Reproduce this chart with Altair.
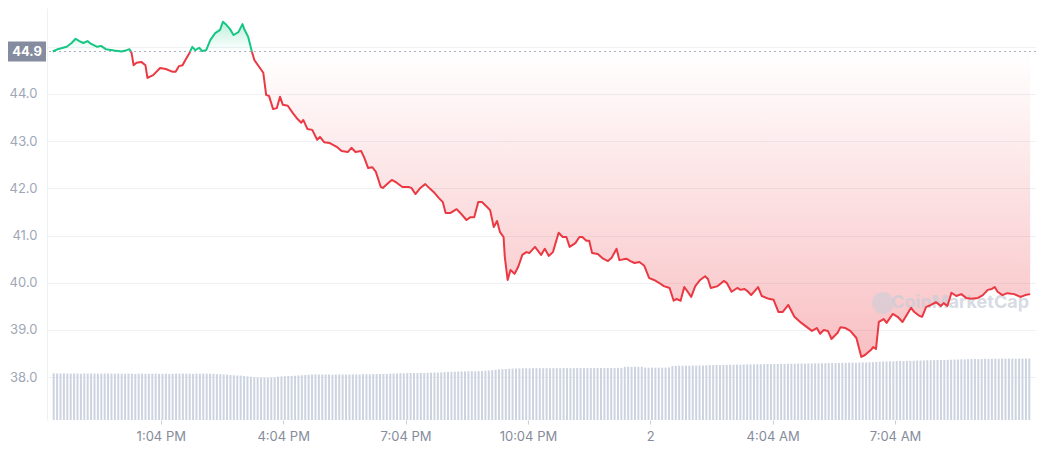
import altair as alt
import pandas as pd

BASE = 44.9
BASE_LABEL = "44.9"

TIMES = [10.42, 10.54, 10.76, 10.88, 10.98, 11.07, 11.17, 11.27, 11.36, 11.51, 11.60, 11.72,
         11.92, 12.11, 12.23, 12.30, 12.35, 12.40, 12.47, 12.59, 12.69, 12.74, 12.88, 13.05,
         13.19, 13.36, 13.43, 13.51, 13.60, 13.67, 13.77, 13.84, 13.91, 14.01, 14.08, 14.18,
         14.28, 14.40, 14.52, 14.59, 14.68, 14.76, 14.85, 14.97, 15.07, 15.12, 15.21, 15.29,
         15.36, 15.58, 15.65, 15.72, 15.82, 15.91, 15.99, 16.06, 16.18, 16.30, 16.42, 16.51,
         16.56, 16.66, 16.78, 16.90, 16.97, 17.07, 17.21, 17.38, 17.50, 17.65, 17.74, 17.84,
         17.98, 18.06, 18.15, 18.25, 18.34, 18.46, 18.51, 18.61, 18.73, 18.85, 18.99, 19.14,
         19.21, 19.31, 19.43, 19.55, 19.67, 19.76, 19.88, 19.98, 20.05, 20.17, 20.32, 20.41,
         20.56, 20.66, 20.75, 20.85, 20.94, 21.06, 21.14, 21.23, 21.31, 21.38, 21.47, 21.50,
         21.57, 21.64, 21.74, 21.83, 21.93, 22.03, 22.10, 22.24, 22.39, 22.48, 22.58, 22.68,
         22.82, 22.92, 23.01, 23.09, 23.23, 23.33, 23.40, 23.50, 23.57, 23.64, 23.78, 23.91,
         24.03, 24.12, 24.24, 24.31, 24.48, 24.58, 24.68, 24.80, 24.92, 25.04, 25.16, 25.28,
         25.40, 25.54, 25.64, 25.71, 25.81, 25.90, 26.00, 26.07, 26.17, 26.29, 26.41, 26.48,
         26.55, 26.72, 26.87, 26.94, 27.06, 27.20, 27.28, 27.37, 27.44, 27.54, 27.71, 27.80,
         27.97, 28.09, 28.21, 28.31, 28.45, 28.60, 28.77, 28.94, 29.03, 29.15, 29.23, 29.32,
         29.42, 29.51, 29.66, 29.73, 29.85, 29.97, 30.12, 30.24, 30.33, 30.48, 30.53, 30.60,
         30.67, 30.79, 30.86, 31.01, 31.13, 31.25, 31.46, 31.54, 31.66, 31.73, 31.83, 31.95,
         32.07, 32.19, 32.26, 32.35, 32.45, 32.57, 32.69, 32.81, 32.93, 33.10, 33.22, 33.34,
         33.44, 33.51, 33.58, 33.70, 33.82, 33.99, 34.14, 34.26, 34.38]

PRICES = [44.90, 44.95, 45.00, 45.08, 45.17, 45.12, 45.08, 45.12, 45.06, 45.00, 45.02, 44.95,
          44.92, 44.90, 44.93, 44.95, 44.87, 44.61, 44.66, 44.68, 44.61, 44.34, 44.40, 44.55,
          44.53, 44.47, 44.47, 44.59, 44.61, 44.72, 44.87, 45.00, 44.93, 44.98, 44.91, 44.93,
          45.14, 45.29, 45.36, 45.53, 45.46, 45.38, 45.25, 45.31, 45.48, 45.36, 45.21, 44.93,
          44.72, 44.45, 43.98, 43.96, 43.68, 43.70, 43.94, 43.77, 43.75, 43.60, 43.47, 43.39,
          43.45, 43.26, 43.24, 43.03, 43.09, 42.98, 42.96, 42.88, 42.79, 42.77, 42.86, 42.77,
          42.79, 42.64, 42.43, 42.45, 42.35, 42.03, 42.01, 42.09, 42.18, 42.12, 42.03, 42.03,
          42.01, 41.88, 42.01, 42.09, 41.99, 41.92, 41.80, 41.71, 41.48, 41.48, 41.56, 41.48,
          41.33, 41.39, 41.39, 41.71, 41.71, 41.61, 41.54, 41.18, 41.31, 41.08, 40.97, 40.55,
          40.06, 40.27, 40.19, 40.34, 40.59, 40.65, 40.63, 40.76, 40.59, 40.72, 40.57, 40.65,
          41.06, 40.97, 40.97, 40.76, 40.84, 40.97, 40.97, 40.89, 40.89, 40.63, 40.61, 40.51,
          40.46, 40.53, 40.72, 40.48, 40.51, 40.46, 40.42, 40.44, 40.36, 40.10, 40.06, 40.00,
          39.93, 39.89, 39.62, 39.66, 39.62, 39.91, 39.79, 39.70, 39.93, 40.06, 40.14, 40.08,
          39.89, 39.93, 40.04, 40.00, 39.81, 39.89, 39.85, 39.87, 39.83, 39.74, 39.91, 39.72,
          39.66, 39.64, 39.38, 39.38, 39.53, 39.28, 39.15, 39.04, 38.98, 39.04, 38.92, 39.00,
          38.98, 38.81, 38.94, 39.06, 39.04, 38.98, 38.83, 38.43, 38.47, 38.58, 38.64, 38.60,
          39.17, 39.23, 39.15, 39.34, 39.28, 39.17, 39.47, 39.38, 39.30, 39.28, 39.49, 39.53,
          39.59, 39.51, 39.57, 39.51, 39.79, 39.72, 39.76, 39.68, 39.66, 39.68, 39.74, 39.85,
          39.87, 39.91, 39.81, 39.74, 39.78, 39.76, 39.70, 39.74, 39.76]

# 5-minute volume bars, one row per hour
VOLUME = [
    46.8, 46.6, 46.5, 46.7, 46.5, 46.4, 46.6, 46.5, 46.3, 46.5, 46.4, 46.5,
    46.5, 46.3, 46.4, 46.5, 46.6, 46.4, 46.3, 46.5, 46.4, 46.2, 46.4, 46.3,
    46.0, 46.3, 46.4, 46.3, 46.2, 46.4, 46.3, 46.1, 46.2, 46.3, 46.0, 46.2,
    46.4, 46.3, 46.5, 46.4, 46.3, 46.2, 46.4, 46.3, 46.5, 46.4, 46.3, 46.1,
    45.8, 45.7, 45.5, 45.4, 45.0, 44.7, 44.5, 44.4, 44.0, 43.6, 43.2, 42.8,
    42.6, 42.4, 42.5, 42.3, 42.6, 42.8, 43.3, 43.6, 43.8, 44.0, 44.1, 44.3,
    44.5, 44.8, 45.0, 45.3, 45.5, 45.6, 45.5, 45.4, 45.6, 45.5, 45.3, 45.5,
    45.6, 45.5, 45.4, 45.6, 45.7, 45.5, 45.6, 45.8, 45.7, 45.6, 45.9, 46.0,
    46.0, 46.1, 46.0, 46.3, 46.5, 46.6, 46.8, 46.7, 46.9, 47.0, 46.9, 47.0,
    47.1, 47.0, 47.2, 47.3, 47.5, 47.4, 47.6, 47.8, 48.0, 48.2, 48.3, 48.5,
    48.6, 48.5, 48.7, 48.8, 48.6, 48.9, 49.0, 49.3, 49.5, 49.8, 50.2, 50.6,
    50.8, 51.0, 51.2, 51.4, 51.5, 51.6, 51.7, 51.8, 51.7, 51.8, 51.9, 51.8,
    51.8, 51.9, 51.7, 51.8, 51.9, 51.8, 52.0, 51.9, 51.8, 51.9, 52.0, 51.9,
    51.9, 52.0, 51.9, 52.0, 52.1, 52.0, 51.9, 52.0, 52.1, 52.0, 52.1, 52.0,
    53.2, 53.3, 53.1, 53.3, 53.2, 53.3, 52.4, 52.3, 52.4, 52.3, 52.4, 52.3,
    52.4, 52.6, 54.0, 54.2, 54.3, 54.2, 54.4, 54.3, 54.5, 54.4, 54.6, 54.5,
    54.8, 55.0, 54.9, 55.1, 55.0, 55.2, 55.1, 55.3, 55.2, 55.4, 55.3, 55.5,
    55.6, 55.5, 55.7, 55.8, 55.7, 55.9, 56.0, 55.9, 56.1, 56.0, 56.2, 56.1,
    56.2, 56.3, 56.2, 56.4, 56.5, 56.4, 56.6, 56.5, 56.7, 56.6, 56.8, 56.7,
    56.9, 57.0, 56.9, 57.1, 57.2, 57.1, 57.3, 57.4, 57.2, 57.5, 57.6, 57.5,
    57.8, 57.9, 58.1, 58.3, 58.4, 58.6, 58.7, 58.6, 58.9, 59.0, 58.9, 59.1,
    59.2, 59.3, 59.4, 59.5, 59.6, 59.8, 59.7, 59.9, 60.0, 60.1, 60.0, 60.2,
    60.3, 60.4, 60.5, 60.7, 60.6, 60.8, 60.9, 61.0, 60.9, 61.1, 61.2, 61.1,
    61.2, 61.3, 61.2, 61.4, 61.3, 61.5, 61.4, 61.3, 61.5, 61.4, 61.6, 61.5,
]

START_H = 10.4
END_H = 34.4
TICK_HOURS = [13.0667, 16.0667, 19.0667, 22.0667, 25.0667, 28.0667, 31.0667]
TICK_LABELS = ["1:04 PM", "4:04 PM", "7:04 PM", "10:04 PM", "2", "4:04 AM", "7:04 AM"]
Y_TICKS = [38, 39, 40, 41, 42, 43, 44, 45]
Y_HIDDEN_LABEL = 45  # covered by the current-price tag

GREEN = "#16c784"
RED = "#ea3943"
FONT = "Inter"

# split the line into above / below baseline runs (crossings at the baseline)
rows = []
seg = 0
prev = None
for t, p in zip(TIMES, PRICES):
    side = "up" if p >= BASE else "down"
    if prev is not None:
        pt, pp, ps = prev
        if side != ps and p != pp:
            tc = pt + (BASE - pp) * (t - pt) / (p - pp)
            rows.append(dict(t=tc, p=BASE, seg=seg, side=ps))
            seg += 1
            rows.append(dict(t=tc, p=BASE, seg=seg, side=side))
    rows.append(dict(t=t, p=p, seg=seg, side=side))
    prev = (t, p, side)

df = pd.DataFrame(rows)
df["hi"] = df["p"].clip(lower=BASE)
df["lo"] = df["p"].clip(upper=BASE)
df["base"] = BASE

vol_df = pd.DataFrame({"t": [START_H + (i + 0.5) / 12 for i in range(len(VOLUME))], "v": VOLUME})
base_df = pd.DataFrame({"v": [BASE], "label": [BASE_LABEL]})
wm_df = pd.DataFrame({"txt": ["CoinMarketCap"]})

xscale = alt.Scale(domain=[START_H, END_H], nice=False, zero=False)
yscale = alt.Scale(domain=[37.093, 45.822], nice=False, zero=False)

label_expr = f"{TICK_LABELS}[round((datum.value - {TICK_HOURS[0]}) / 3)]"
xaxis = alt.Axis(
    values=TICK_HOURS, labelExpr=label_expr, title=None, grid=False, domain=False,
    ticks=True, tickSize=4, tickColor="#c9cfdb", labelColor="#858c9c", labelFontSize=13,
    labelFont=FONT, labelPadding=6,
    labelFontWeight={"condition": {"test": "datum.label == '2'", "value": "bold"}, "value": "normal"},
)
yaxis = alt.Axis(
    values=Y_TICKS, format=".1f", title=None, grid=True, gridColor="#eff2f5", domain=True,
    domainColor="#eff2f5", ticks=False, labelColor="#a0a7b6", labelFontSize=13, labelFont=FONT,
    labelPadding=10,
    labelExpr=f"datum.value == {Y_HIDDEN_LABEL} ? '' : datum.label",
)

X = alt.X("t:Q", scale=xscale, axis=xaxis)

vol = alt.Chart(vol_df).mark_bar(width=2, color="#cdd4e0").encode(
    x=X,
    y=alt.Y("v:Q", scale=alt.Scale(domain=[0, 412]), axis=None),
)

green_grad = alt.Gradient(
    gradient="linear",
    stops=[alt.GradientStop(color="rgba(22,199,132,0.28)", offset=0),
           alt.GradientStop(color="rgba(22,199,132,0.0)", offset=1)],
    x1=0, x2=0, y1=0, y2=1,
)
red_grad = alt.Gradient(
    gradient="linear",
    stops=[alt.GradientStop(color="rgba(234,57,67,0.0)", offset=0),
           alt.GradientStop(color="rgba(234,57,67,0.32)", offset=1)],
    x1=0, x2=0, y1=0, y2=1,
)

area_up = alt.Chart(df).mark_area(color=green_grad, interpolate="linear").encode(
    x=X,
    y=alt.Y("hi:Q", scale=yscale, axis=yaxis),
    y2="base:Q",
)
area_down = alt.Chart(df).mark_area(color=red_grad, interpolate="linear").encode(
    x=X,
    y=alt.Y("lo:Q", scale=yscale, axis=yaxis),
    y2="base:Q",
)

base_rule = alt.Chart(base_df).mark_rule(color="#a9b0be", strokeDash=[2, 3], strokeWidth=1).encode(
    y=alt.Y("v:Q", scale=yscale, axis=yaxis),
)

line = alt.Chart(df).mark_line(strokeWidth=2, strokeJoin="round").encode(
    x=X,
    y=alt.Y("p:Q", scale=yscale, axis=yaxis),
    color=alt.Color("side:N", scale=alt.Scale(domain=["up", "down"], range=[GREEN, RED]), legend=None),
    detail="seg:N",
)

box = alt.Chart(base_df).mark_point(
    shape="M-1,-0.526L1,-0.526L1,0.526L-1,0.526Z", size=38 * 38, filled=True,
    color="#858ca0", opacity=1, strokeWidth=0,
).encode(x=alt.value(-20), y=alt.Y("v:Q", scale=yscale, axis=yaxis))

box_text = alt.Chart(base_df).mark_text(
    color="white", fontWeight="bold", fontSize=13, font=FONT, align="center", baseline="middle",
).encode(x=alt.value(-20), y=alt.Y("v:Q", scale=yscale, axis=yaxis), text="label:N")

wm_logo = alt.Chart(wm_df).mark_point(
    shape="circle", size=480, filled=True, color="#c8cdd8", opacity=0.55,
).encode(x=alt.value(836), y=alt.value(295))
wm_text = alt.Chart(wm_df).mark_text(
    color="#c8cdd8", opacity=0.7, fontSize=18, fontWeight="bold", font=FONT, align="right",
    baseline="middle",
).encode(x=alt.value(982), y=alt.value(295), text="txt:N")

price = alt.layer(area_up, area_down, base_rule, wm_logo, wm_text, line, box, box_text)

chart = alt.layer(vol, price).resolve_scale(y="independent").properties(
    width=989, height=412,
    autosize=alt.AutoSizeParams(type="none"),
    padding={"left": 39, "top": 0, "right": 0, "bottom": 30},
    background="white",
).configure_view(stroke=None)

chart.save("out.html", embed_options={"renderer": "svg", "actions": False})
